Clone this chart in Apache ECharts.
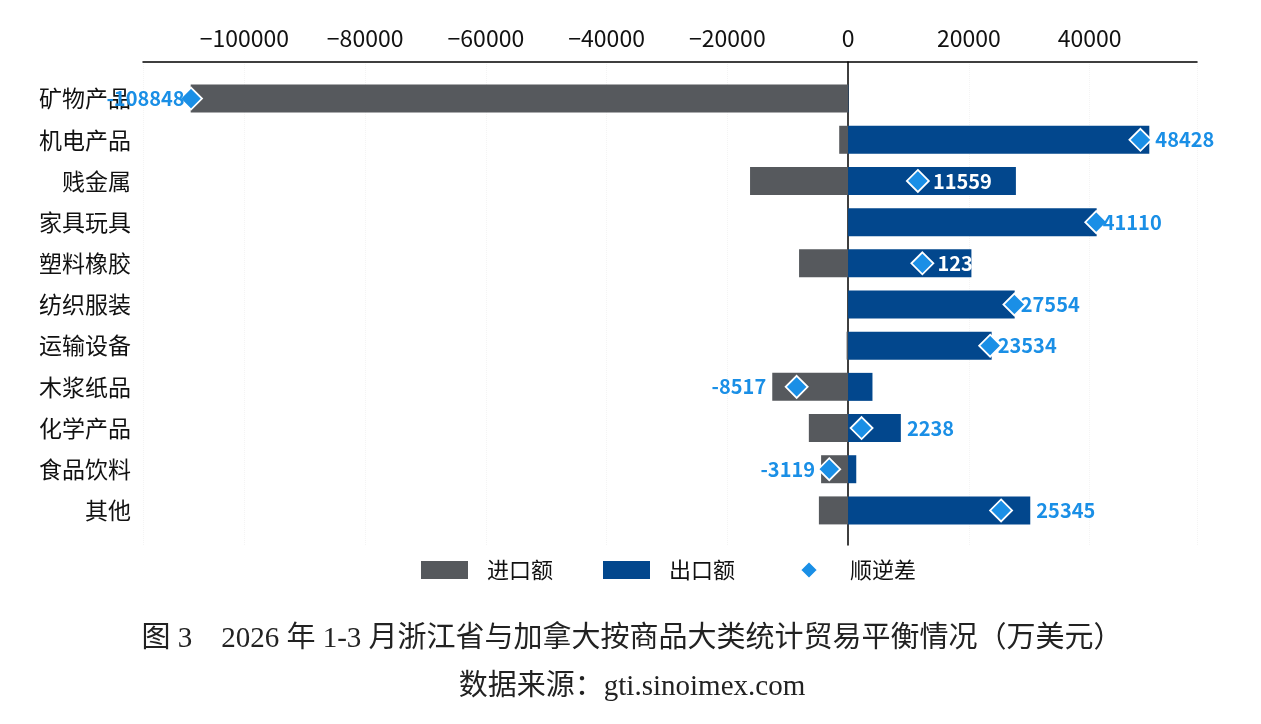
<!DOCTYPE html>
<html>
<head>
<meta charset="utf-8">
<script src="https://cdn.jsdelivr.net/npm/echarts@6/dist/echarts.min.js"></script>
<style>
html,body{margin:0;padding:0;background:#fff;}
#main{width:1261px;height:724px;}
</style>
</head>
<body>
<div id="main"></div>
<script>
var categories = ['矿物产品','机电产品','贱金属','家具玩具','塑料橡胶','纺织服装','运输设备','木浆纸品','化学产品','食品饮料','其他'];
var importValues = [-108900, -1470, -16240, -70, -8120, -46, -246, -12560, -6500, -4470, -4835];
var exportValues = [52, 49900, 27800, 41180, 20430, 27600, 23780, 4040, 8740, 1355, 30180];
var balanceValues = [-108848, 48428, 11559, 41110, 12306, 27554, 23534, -8517, 2238, -3119, 25345];
var insideLabelCats = ['贱金属','塑料橡胶'];
var seriesNames = ['进口额','出口额','顺逆差'];
var titleText = '图 3　2026 年 1-3 月浙江省与加拿大按商品大类统计贸易平衡情况（万美元）';
var sourceText = '数据来源：gti.sinoimex.com';

var SANS = "'Noto Sans CJK SC', 'Noto Sans', sans-serif";
var SERIF = "'Liberation Serif', 'Noto Sans CJK SC', serif";
var blueLabel = '#1a8fe6';

// label anchors: outside the bars unless the label sits inside the export bar
var labelData = balanceValues.map(function (v, i) {
  var inside = insideLabelCats.indexOf(categories[i]) >= 0;
  var anchor;
  if (inside) anchor = v;
  else if (v >= 0) anchor = Math.max(exportValues[i], v);
  else anchor = Math.min(importValues[i], v);
  return {
    value: [anchor, categories[i]],
    label: {
      position: v < 0 ? 'left' : 'right',
      distance: inside ? 15 : 6,
      color: inside ? '#ffffff' : blueLabel,
      formatter: String(v)
    }
  };
});

var chart = echarts.init(document.getElementById('main'), null, {renderer: 'canvas'});
var xMin = -116800, xMax = 57800;
var legendText = {fontFamily: SANS, fontSize: 22, color: '#111'};
var option = {
  backgroundColor: '#ffffff',
  animation: false,
  textStyle: {fontFamily: SANS},
  title: [
    {text: titleText, left: 627, top: 620, textAlign: 'center',
     textStyle: {fontFamily: SERIF, fontSize: 29, fontWeight: 'normal', color: '#222'}},
    {text: sourceText, left: 627, top: 668, textAlign: 'center',
     textStyle: {fontFamily: SERIF, fontSize: 29, fontWeight: 'normal', color: '#222'}}
  ],
  legend: [
    {
      data: [
        {name: seriesNames[0], icon: 'rect'},
        {name: seriesNames[1], icon: 'rect'}
      ],
      left: 421, top: 559, padding: 0,
      itemWidth: 47, itemHeight: 18, itemGap: 50,
      textStyle: Object.assign({padding: [0, 0, 0, 14]}, legendText)
    },
    {
      data: [{name: seriesNames[2], icon: 'diamond'}],
      left: 799, top: 559, padding: 0,
      itemWidth: 18, itemHeight: 18,
      textStyle: Object.assign({padding: [0, 0, 0, 27]}, legendText)
    }
  ],
  grid: [
    {left: 143, right: 64, top: 62, bottom: 179, containLabel: false},
    {left: 143, right: 64, top: 78, bottom: 193, containLabel: false}
  ],
  xAxis: [
    {
      type: 'value', gridIndex: 0, position: 'top', min: xMin, max: xMax, splitNumber: 8,
      axisLine: {show: true, onZero: false, lineStyle: {color: '#000', width: 1.5}},
      axisTick: {show: false},
      axisLabel: {
        showMinLabel: false, showMaxLabel: false, margin: 12,
        fontSize: 23, color: '#111', fontFamily: SANS,
        formatter: function (v) { return String(v).replace('-', '\u2212'); }
      },
      splitLine: {show: true, lineStyle: {color: '#f4f4f4', type: 'dotted'}}
    },
    {
      type: 'value', gridIndex: 1, min: xMin, max: xMax, splitNumber: 8,
      axisLine: {show: false}, axisTick: {show: false}, axisLabel: {show: false},
      splitLine: {show: false}
    }
  ],
  yAxis: [
    {
      type: 'category', gridIndex: 0, data: categories, inverse: true,
      axisLine: {show: true, onZero: true, lineStyle: {color: '#000', width: 1.5}},
      axisTick: {show: false}, axisLabel: {show: false}, splitLine: {show: false}
    },
    {
      type: 'category', gridIndex: 1, data: categories, inverse: true,
      axisLine: {show: false}, axisTick: {show: false},
      axisLabel: {show: true, fontSize: 23, color: '#111', margin: 12, fontFamily: SANS}
    }
  ],
  series: [
    {
      name: '_axisHolder', type: 'line', xAxisIndex: 0, yAxisIndex: 0, data: [],
      silent: true, legendHoverLink: false
    },
    {
      name: seriesNames[0], type: 'bar', xAxisIndex: 1, yAxisIndex: 1, stack: 'total',
      barWidth: 28, data: importValues, itemStyle: {color: '#56595d'}
    },
    {
      name: seriesNames[1], type: 'bar', xAxisIndex: 1, yAxisIndex: 1, stack: 'total',
      barWidth: 28, data: exportValues, itemStyle: {color: '#02478d'}
    },
    {
      name: seriesNames[2], type: 'scatter', xAxisIndex: 1, yAxisIndex: 1,
      symbol: 'diamond', symbolSize: 22, z: 5,
      itemStyle: {color: '#1a8fe6', borderColor: '#ffffff', borderWidth: 1.8, opacity: 1},
      data: balanceValues
    },
    {
      name: '_labels', type: 'scatter', xAxisIndex: 1, yAxisIndex: 1,
      symbolSize: 0.1, z: 6, silent: true,
      itemStyle: {color: 'rgba(0,0,0,0)', opacity: 1},
      label: {show: true, fontSize: 20, fontWeight: 'bold', fontFamily: SANS, opacity: 1},
      data: labelData
    }
  ]
};
chart.setOption(option);
</script>
</body>
</html>
